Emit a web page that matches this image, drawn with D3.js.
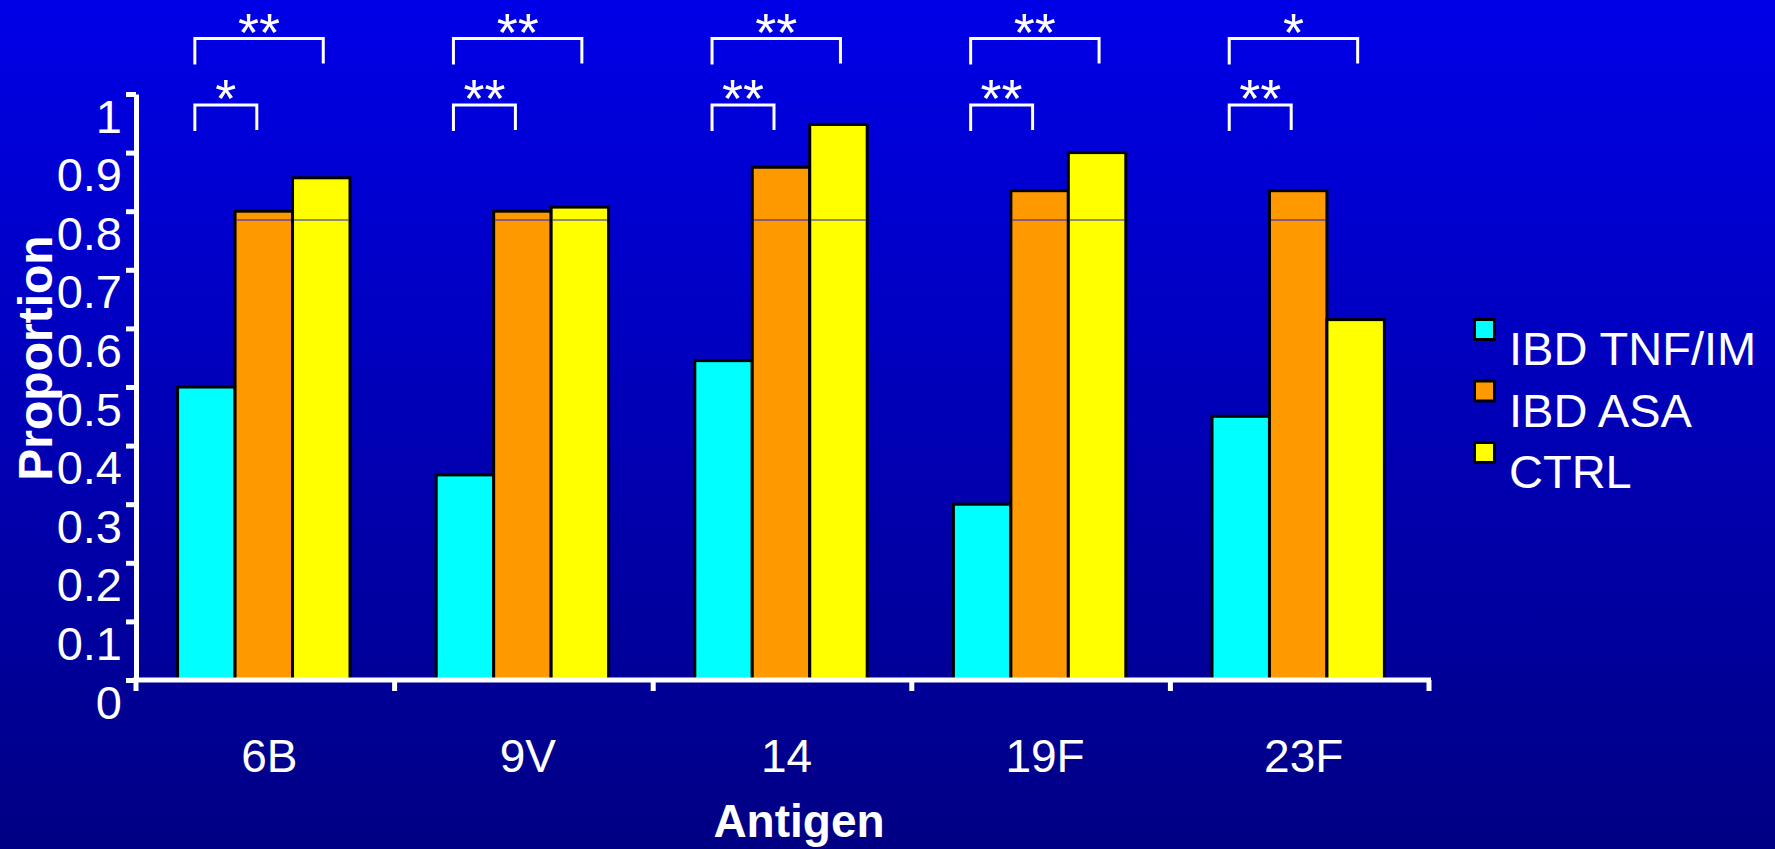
<!DOCTYPE html>
<html>
<head>
<meta charset="utf-8">
<script src="https://cdn.jsdelivr.net/npm/d3@7"></script>
<style>
  html, body { margin: 0; padding: 0; background: #000088; }
  svg { display: block; font-family: "Liberation Sans", Arial, sans-serif; }
</style>
</head>
<body>
<svg id="chart" width="1775" height="849"></svg>
<script>
// ---- data ----
const categories = ["6B", "9V", "14", "19F", "23F"];
const seriesNames = ["IBD TNF/IM", "IBD ASA", "CTRL"];
const tnfIm = [0.50, 0.35, 0.545, 0.30, 0.45];
const ibdAsa = [0.80, 0.80, 0.875, 0.835, 0.835];
const ctrl = [0.857, 0.807, 0.948, 0.90, 0.615];
const yTickValues = [0, 0.1, 0.2, 0.3, 0.4, 0.5, 0.6, 0.7, 0.8, 0.9, 1];
const yTickLabels = ["0", "0.1", "0.2", "0.3", "0.4", "0.5", "0.6", "0.7", "0.8", "0.9", "1"];
const sigTnfVsAsa = ["*", "**", "**", "**", "**"];
const sigTnfVsCtrl = ["**", "**", "**", "**", "*"];
const refLineValue = 0.785;
const seriesColors = ["#00FFFF", "#FF9900", "#FFFF00"];

const seriesValues = [tnfIm, ibdAsa, ctrl];
const rows = categories.map((c, i) => ({cat: c, vals: seriesValues.map(s => s[i])}));

// ---- layout ----
const W = 1775, H = 849;
const plot = {left: 136, right: 1429, top: 94, bottom: 680};
const svg = d3.select("#chart");

// background gradient
const defs = svg.append("defs");
const grad = defs.append("linearGradient").attr("id", "bg")
  .attr("x1", 0).attr("y1", 0).attr("x2", 0).attr("y2", 1);
grad.append("stop").attr("offset", "0%").attr("stop-color", "#0000E8");
grad.append("stop").attr("offset", "100%").attr("stop-color", "#000084");
svg.append("rect").attr("width", W).attr("height", H).attr("fill", "url(#bg)");

const x0 = d3.scaleBand().domain(categories).range([plot.left, plot.right]).padding(0);
const x1 = d3.scaleBand().domain(seriesNames).range([-1.5, x0.bandwidth() - 1.5])
  .paddingInner(0).paddingOuter(0.75);
const y = d3.scaleLinear().domain([0, 1]).range([plot.bottom, plot.top]);
const color = d3.scaleOrdinal().domain(seriesNames).range(seriesColors);

// bars
const groups = svg.append("g").selectAll("g").data(rows).join("g")
  .attr("transform", d => `translate(${x0(d.cat)},0)`);
groups.selectAll("rect").data(d => d.vals.map((v, i) => ({name: seriesNames[i], v})))
  .join("rect")
  .attr("x", d => x1(d.name))
  .attr("y", d => y(d.v))
  .attr("width", x1.bandwidth())
  .attr("height", d => y(0) - y(d.v))
  .attr("fill", d => color(d.name))
  .attr("stroke", "#000")
  .attr("stroke-width", 3);
// thin blue reference line visible through bars
groups.selectAll("line.ref").data(d => d.vals.map((v, i) => ({name: seriesNames[i], v})).filter(e => e.v > refLineValue))
  .join("line").attr("class", "ref")
  .attr("x1", d => x1(d.name) + 1.5)
  .attr("x2", d => x1(d.name) + x1.bandwidth() - 1.5)
  .attr("y1", y(refLineValue)).attr("y2", y(refLineValue))
  .attr("stroke", "#1A1AF0").attr("stroke-width", 1.2);

// y axis
const yAxis = d3.axisLeft(y).tickValues(yTickValues)
  .tickFormat((d, i) => yTickLabels[i])
  .tickSizeInner(10).tickSizeOuter(0).tickPadding(4);
const gy = svg.append("g").attr("transform", `translate(${plot.left},0)`).call(yAxis);
gy.select(".domain").attr("stroke", "#fff").attr("stroke-width", 5);
gy.selectAll(".tick line").attr("stroke", "#fff").attr("stroke-width", 5);
gy.selectAll(".tick text").attr("fill", "#fff").attr("font-size", 47)
  .attr("font-family", "Liberation Sans, Arial, sans-serif")
  .attr("dy", null).attr("y", 38);

// x axis (ticks at category boundaries)
const gx = svg.append("g");
gx.append("line").attr("x1", plot.left - 3).attr("x2", plot.right + 2)
  .attr("y1", y(0)).attr("y2", y(0)).attr("stroke", "#fff").attr("stroke-width", 5);
const boundaries = categories.map(c => x0(c)).concat([x0.range()[1]]);
gx.selectAll("line.tk").data(boundaries).join("line").attr("class", "tk")
  .attr("x1", d => d).attr("x2", d => d)
  .attr("y1", y(0)).attr("y2", y(0) + 11)
  .attr("stroke", "#fff").attr("stroke-width", 5);
gx.selectAll("text").data(categories).join("text")
  .attr("x", d => x0(d) + x0.bandwidth() / 2 + 4)
  .attr("y", 772)
  .attr("text-anchor", "middle").attr("fill", "#fff").attr("font-size", 46)
  .text(d => d);

// axis titles
svg.append("text").attr("x", 799).attr("y", 837).attr("text-anchor", "middle")
  .attr("fill", "#fff").attr("font-size", 46).attr("font-weight", "bold").text("Antigen");
svg.append("text").attr("transform", "translate(52,358) rotate(-90)")
  .attr("text-anchor", "middle").attr("fill", "#fff").attr("font-size", 48)
  .attr("font-weight", "bold").text("Proportion");

// significance brackets
const bw = x1.bandwidth();
const centerOf = (cat, s) => x0(cat) + x1(s) + bw / 2;
const brackets = [];
categories.forEach((c, i) => {
  const left = centerOf(c, seriesNames[0]) - 0.2 * bw;
  brackets.push({x1: left, x2: centerOf(c, seriesNames[1]) - 7, yb: plot.top + 11, label: sigTnfVsAsa[i]});
  brackets.push({x1: left, x2: centerOf(c, seriesNames[2]) + 2, yb: plot.top - 55.5, label: sigTnfVsCtrl[i]});
});
const bg = svg.append("g").selectAll("g").data(brackets).join("g");
bg.append("path")
  .attr("d", d => `M${d.x1},${d.yb + 26}V${d.yb}H${d.x2}V${d.yb + 25}`)
  .attr("fill", "none").attr("stroke", "#fff").attr("stroke-width", 3);
bg.append("text")
  .attr("x", d => (d.x1 + d.x2) / 2).attr("y", d => d.yb + 12)
  .attr("text-anchor", "middle").attr("fill", "#fff").attr("font-size", 54)
  .text(d => d.label);

// legend
const legend = svg.append("g").selectAll("g").data(seriesNames).join("g")
  .attr("transform", (d, i) => `translate(1473,${365 + i * 61.5})`);
legend.append("rect").attr("x", 1.5).attr("y", -45.5).attr("width", 20).attr("height", 20)
  .attr("fill", d => color(d)).attr("stroke", "#000").attr("stroke-width", 3);
legend.append("text").attr("x", 36).attr("y", 0).attr("fill", "#fff").attr("font-size", 47)
  .text(d => d);
</script>
</body>
</html>
